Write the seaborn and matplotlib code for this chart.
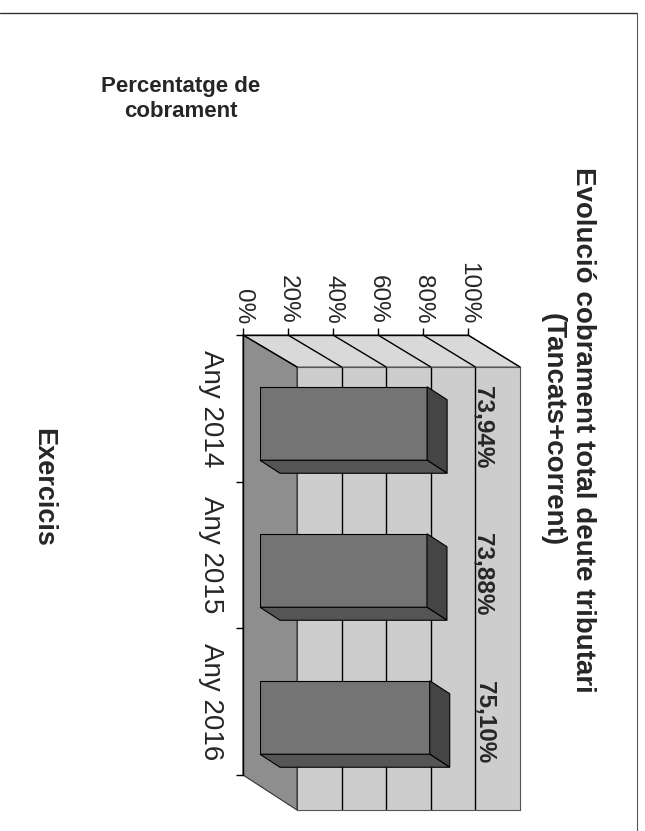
import pandas as pd
import seaborn as sns
import matplotlib.pyplot as plt
from matplotlib.patches import Polygon
from matplotlib.lines import Line2D
from matplotlib.transforms import IdentityTransform

# Dades del grafic
exercicis = ['Any 2014', 'Any 2015', 'Any 2016']
cobrament = [73.94, 73.88, 75.10]
etiquetes = ['73,94%', '73,88%', '75,10%']
ticks_pct = [0, 20, 40, 60, 80, 100]
ticks_txt = ['0%', '20%', '40%', '60%', '80%', '100%']

sns.set_style('white')
plt.rcParams['font.family'] = ['Liberation Sans', 'DejaVu Sans']

W, H = 645, 831
fig = plt.figure(figsize=(W / 100, H / 100), dpi=100)


# axes placed in pixel coordinates (top-left origin, like the scan)
def px_axes(x0, top, x1, bottom):
    return fig.add_axes([x0 / W, 1 - bottom / H, (x1 - x0) / W, (bottom - top) / H])


ax_back = px_axes(297, 367, 520, 810)   # back wall
ax_bar = px_axes(260, 350, 486, 791)    # bar front faces
ax_front = px_axes(243, 335, 468, 775)  # front axis lines + ticks

ax_back.set_zorder(0)
ax_bar.set_zorder(2)
ax_front.set_zorder(4)

# back wall
ax_back.set_facecolor('#cdcdcd')
ax_back.set_xlim(0, 100)
ax_back.set_ylim(2.5, -0.5)
ax_back.set_xticks([])
ax_back.set_yticks([])
for v in ticks_pct[1:-1]:
    ax_back.axvline(v, color='black', lw=1)
for s in ax_back.spines.values():
    s.set_color('#555555')
    s.set_linewidth(0.8)

ax_front.set_xlim(0, 100)
ax_front.set_ylim(2.5, -0.5)


def front(x, y):
    return ax_front.transData.transform((x, y))


def back(x, y):
    return ax_back.transData.transform((x, y))


# side wall (top) and floor (left)
side = Polygon([front(0, -0.5), front(100, -0.5), back(100, -0.5), back(0, -0.5)],
               closed=True, transform=IdentityTransform(), fc='#d9d9d9', ec='#555555', lw=0.8, zorder=1)
floor = Polygon([front(0, -0.5), back(0, -0.5), back(0, 2.5), front(0, 2.5)],
                closed=True, transform=IdentityTransform(), fc='#8e8e8e', ec='#333333', lw=0.8, zorder=1)
fig.add_artist(side)
fig.add_artist(floor)
for v in ticks_pct:
    p0, p1 = front(v, -0.5), back(v, -0.5)
    fig.add_artist(Line2D([p0[0], p1[0]], [p0[1], p1[1]], transform=IdentityTransform(),
                          color='black', lw=1, zorder=1.5))

# bars
df = pd.DataFrame({'exercici': exercicis, 'cobrament': cobrament})
sns.barplot(data=df, x='cobrament', y='exercici', orient='h', ax=ax_bar, color='#747474',
            width=0.5, saturation=1, edgecolor='black', linewidth=0.8)
ax_bar.set_xlim(0, 100)
ax_bar.set_ylim(2.5, -0.5)
ax_bar.axis('off')

# 3d extrusion of each bar
dx, dy = 20, 13
for patch in ax_bar.patches:
    bb = patch.get_window_extent()
    x0, y0, x1, y1 = bb.x0, bb.y0, bb.x1, bb.y1
    top_face = Polygon([(x1, y1), (x1 + dx, y1 - dy), (x1 + dx, y0 - dy), (x1, y0)],
                       closed=True, transform=IdentityTransform(), fc='#454545', ec='black', lw=0.8, zorder=3)
    side_face = Polygon([(x0, y0), (x1, y0), (x1 + dx, y0 - dy), (x0 + dx, y0 - dy)],
                        closed=True, transform=IdentityTransform(), fc='#555555', ec='black', lw=0.8, zorder=3)
    fig.add_artist(top_face)
    fig.add_artist(side_face)

for i, (v, txt) in enumerate(zip(cobrament, etiquetes)):
    ax_bar.annotate(txt, (v, i), xytext=(40, -3), textcoords='offset points',
                    rotation=-90, ha='center', va='center', fontsize=17.5, fontweight='bold')

# front axis
ax_front.patch.set_alpha(0)
for k in ['right', 'bottom']:
    ax_front.spines[k].set_visible(False)
for k in ['left', 'top']:
    ax_front.spines[k].set_color('black')
    ax_front.spines[k].set_linewidth(1)
ax_front.xaxis.tick_top()
ax_front.set_xticks(ticks_pct)
ax_front.set_xticklabels(ticks_txt, rotation=-90, fontsize=17.5)
ax_front.tick_params(axis='x', length=5, width=1, pad=3, color='black')
ax_front.set_yticks(range(len(exercicis)))
ax_front.set_yticklabels(exercicis, rotation=-90, va='center', fontsize=20)
ax_front.set_yticks([-0.5, 0.5, 1.5, 2.5], minor=True)
ax_front.tick_params(axis='y', which='major', length=0, pad=14)
ax_front.tick_params(axis='y', which='minor', length=5, width=1, color='black', left=True)

# texts
fig.text(568 / W, 1 - 430 / H, 'Evolució cobrament total deute tributari\n(Tancats+corrent)',
         rotation=-90, ha='center', va='center', multialignment='center',
         fontsize=20, fontweight='bold', linespacing=1.25)
fig.text(43 / W, 1 - 487 / H, 'Exercicis', rotation=-90, ha='center', va='center',
         fontsize=19.5, fontweight='bold')
fig.text(181 / W, 1 - 99 / H, 'Percentatge de\ncobrament', ha='center', va='center',
         fontsize=16, fontweight='bold', linespacing=1.2)

# page frame of the scan
fig.add_artist(Line2D([0, 637 / W], [1 - 13 / H, 1 - 13 / H], transform=fig.transFigure, color='#333333', lw=1))
fig.add_artist(Line2D([637 / W, 637 / W], [0, 1 - 13 / H], transform=fig.transFigure, color='#555555', lw=0.8))

fig.savefig('out.png', dpi=100)
